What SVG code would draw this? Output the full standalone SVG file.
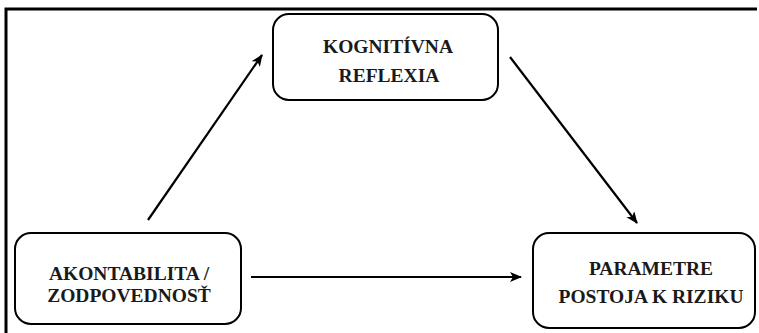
<svg xmlns="http://www.w3.org/2000/svg" width="759" height="333" viewBox="0 0 759 333">
  <style>
    .box { fill: #fff; stroke: #000; stroke-width: 2; }
    .label { font-family: "Liberation Serif", "Times New Roman", serif; font-weight: bold; font-size: 19.5px; fill: #1a1a1a; text-anchor: middle; }
    .edge { stroke: #000; stroke-width: 2.2; fill: none; marker-end: url(#head); }
  </style>
  <defs>
    <marker id="head" viewBox="0 0 12 10" refX="11" refY="5" markerWidth="12" markerHeight="10" markerUnits="userSpaceOnUse" orient="auto">
      <path d="M0,0 L12,5 L0,10 L3,5 Z" fill="#000"/>
    </marker>
  </defs>
  <rect width="759" height="333" fill="#fff"/>
  <!-- outer frame (top and left edges) -->
  <path d="M6,333 V9 H757" fill="none" stroke="#000" stroke-width="3"/>

  <g id="connectors">
    <line class="edge" x1="148" y1="220" x2="262" y2="55"/>
    <line class="edge" x1="510" y1="57" x2="637" y2="223"/>
    <line class="edge" x1="251" y1="277" x2="521" y2="277"/>
  </g>

  <g id="kognitivna">
    <rect class="box" x="273" y="14" width="225" height="86" rx="16"/>
    <text class="label" x="388" y="53">KOGNITÍVNA</text>
    <text class="label" x="389" y="82">REFLEXIA</text>
  </g>

  <g id="akontabilita">
    <rect class="box" x="15" y="233" width="226" height="91" rx="16"/>
    <text class="label" x="129" y="280">AKONTABILITA /</text>
    <text class="label" x="129" y="302">ZODPOVEDNOSŤ</text>
  </g>

  <g id="parametre">
    <rect class="box" x="533" y="233" width="222" height="95" rx="16"/>
    <text class="label" x="651" y="275">PARAMETRE</text>
    <text class="label" x="651" y="303">POSTOJA K RIZIKU</text>
  </g>
</svg>
